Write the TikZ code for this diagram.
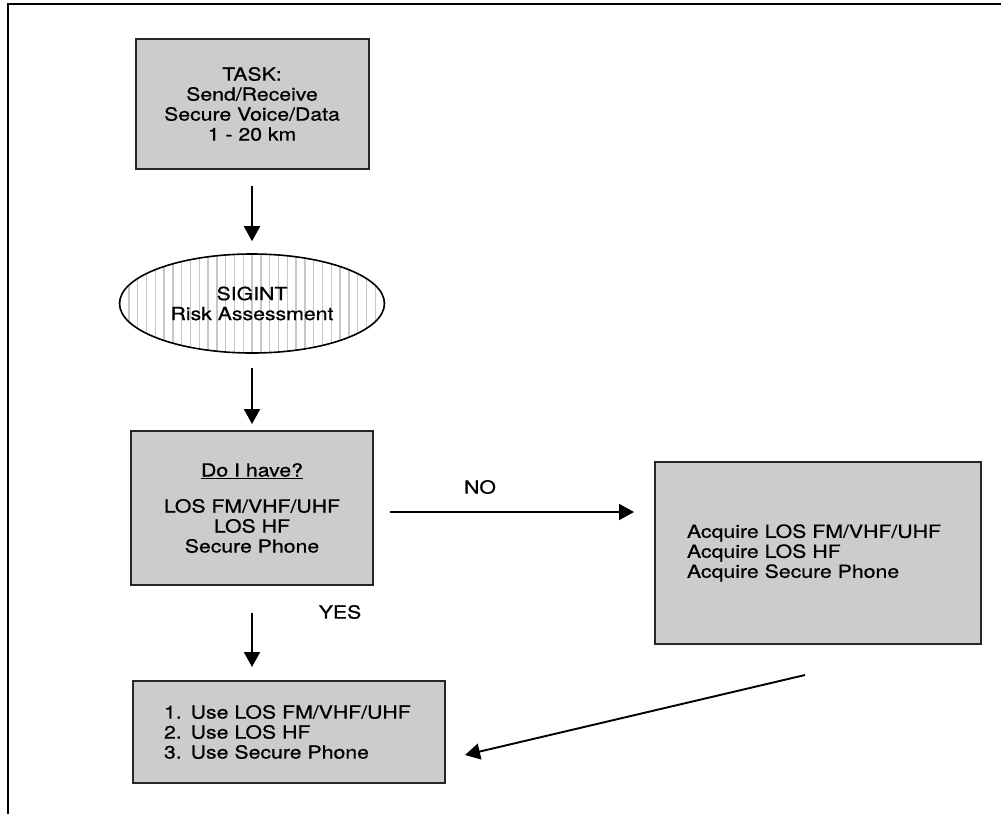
\documentclass[tikz,border=0pt]{standalone}
\usepackage{fontspec}
\setmainfont[FakeStretch=1.18, FakeBold=0.7]{TeX Gyre Heros}
\usepackage{tikz}
\usetikzlibrary{arrows.meta, shapes.geometric}

\begin{document}
\begin{tikzpicture}[x=1pt, y=-1pt, font=\fontsize{18}{20}\selectfont,
		box/.style={draw=black!85, line width=2pt, fill=black!20, inner sep=0pt},
		flow/.style={line width=1.9pt, -{Triangle[length=15pt, width=16pt]}},
		hatch/.style={black!22, line width=1.4pt}]
		\useasboundingbox (0,0) rectangle (1001,814);
		\draw[line width=2pt] (1001,4) -- (8,4) -- (8,814);
		\node[box, minimum width=233pt, minimum height=130pt, align=center] (task) at (252,104) {TASK:\\Send/Receive\\Secure Voice/Data\\1 - 20 km};
		\node[draw, ellipse, line width=1.6pt, minimum width=265pt, minimum height=99pt, inner sep=0pt, align=center,
			path picture={
				\foreach \i in {-15,...,15} {
					\draw[hatch] ([xshift=\i*8.8pt]path picture bounding box.north) -- ([xshift=\i*8.8pt]path picture bounding box.south);
				}
			}] (sigint) at (252,303.5) {SIGINT\\Risk Assessment};
		\node[box, minimum width=242pt, minimum height=154pt, align=center] (have) at (252,508) {\underline{Do I have?}\\[16pt]LOS FM/VHF/UHF\\LOS HF\\Secure Phone};
		\node[box, minimum width=326pt, minimum height=182pt, text width=262pt, inner xsep=32pt, align=left] (acquire) at (818,553) {Acquire LOS FM/VHF/UHF\\Acquire LOS HF\\Acquire Secure Phone};
		\node[box, minimum width=290pt, minimum height=102pt, text width=250pt, inner xsep=31pt, align=left, anchor=west] (use) at (132,732) {1. Use LOS FM/VHF/UHF\\2. Use LOS HF\\3. Use Secure Phone};
		\node (no) at (480,487) {NO};
		\node (yes) at (340,612) {YES};
		\coordinate (from) at (805,675);
		\coordinate (to) at (465,755);
		\draw[flow, shorten <=16pt, shorten >=12pt] (task.south) -- (sigint.north);
		\draw[flow, shorten <=14pt, shorten >=6pt] (sigint.south) -- (have.north);
		\draw[flow, shorten <=16pt, shorten >=20pt] ([yshift=-4pt]have.east) -- ([yshift=-4pt]have.east -| acquire.west);
		\draw[flow, shorten <=27pt, shorten >=13pt] (have.south) -- (have.south |- use.north);
		\draw[flow] (from) -- (to);
	\end{tikzpicture}
\end{document}
